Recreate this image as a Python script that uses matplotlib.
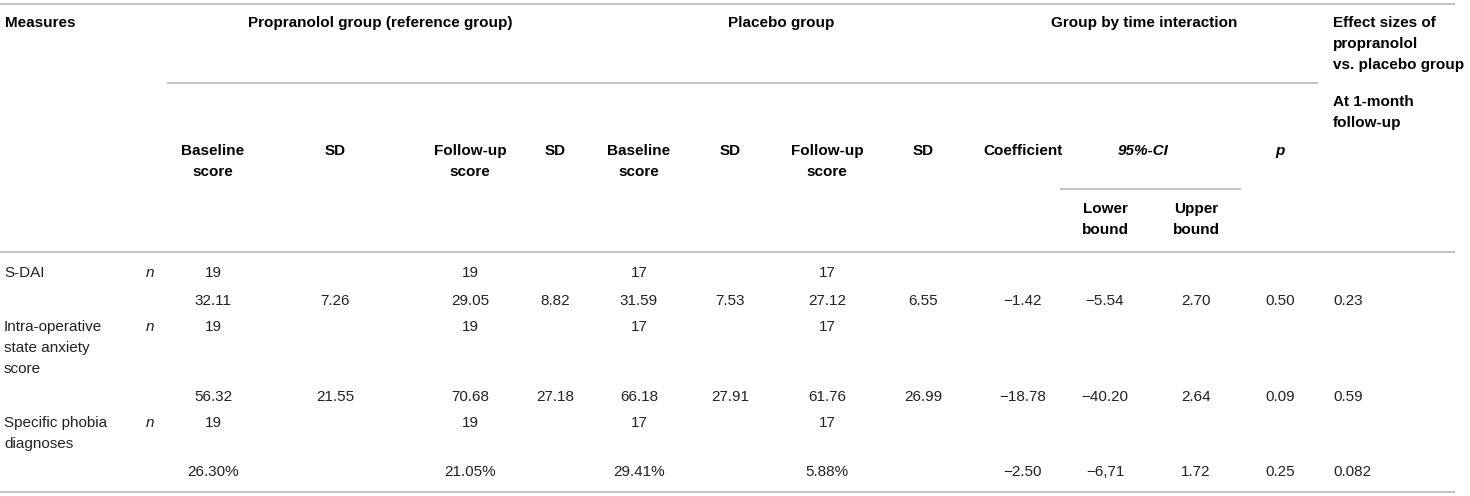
import matplotlib.pyplot as plt

plt.rcParams['font.family'] = ['Liberation Sans', 'DejaVu Sans']

# Table content
group_headers = ['Propranolol group (reference group)', 'Placebo group', 'Group by time interaction']
sub_headers = ['Baseline\nscore', 'SD', 'Follow-up\nscore', 'SD',
               'Baseline\nscore', 'SD', 'Follow-up\nscore', 'SD',
               'Coefficient']
ci_headers = ['Lower\nbound', 'Upper\nbound']
effect_header = 'Effect sizes of\npropranolol\nvs. placebo group'
effect_sub = 'At 1-month\nfollow-up'

measures = ['S-DAI', 'Intra-operative\nstate anxiety\nscore', 'Specific phobia\ndiagnoses']
n_prop = [19, 19, 19]
n_plac = [17, 17, 17]

prop_base = ['32.11', '56.32', '26.30%']
prop_base_sd = ['7.26', '21.55', '']
prop_follow = ['29.05', '70.68', '21.05%']
prop_follow_sd = ['8.82', '27.18', '']
plac_base = ['31.59', '66.18', '29.41%']
plac_base_sd = ['7.53', '27.91', '']
plac_follow = ['27.12', '61.76', '5.88%']
plac_follow_sd = ['6.55', '26.99', '']
coefficient = ['\u22121.42', '\u221218.78', '\u22122.50']
ci_lower = ['\u22125.54', '\u221240.20', '\u22126,71']
ci_upper = ['2.70', '2.64', '1.72']
p_values = ['0.50', '0.09', '0.25']
effect_sizes = ['0.23', '0.59', '0.082']

# Layout (pixel coordinates)
col_x = [213, 335, 470, 555, 639, 730, 827, 923, 1023, 1105, 1196, 1280]
effect_x = 1333
n_x = 150
label_rows = [273, 327, 423]
value_rows = [301, 397, 472]
step = 21
fs = 11
line_col = '#c4c4c4'
txt_col = '#222222'

fig = plt.figure(figsize=(14.7, 4.96), dpi=100)
ax = fig.add_axes([0, 0, 1, 1])
ax.set_xlim(0, 1470)
ax.set_ylim(496, 0)
ax.axis('off')


def put(x, y, s, ha='center', **kw):
    for i, line in enumerate(s.split('\n')):
        ax.text(x, y + i * step, line, ha=ha, va='center', fontsize=fs, **kw)


# rules
for y, x0, x1 in [(4, 0, 1455), (83, 167, 1318), (189, 1060, 1241),
                  (252, 0, 1455), (492, 0, 1455)]:
    ax.plot([x0, x1], [y, y], color=line_col, lw=1.5, solid_capstyle='butt')

# header
put(5, 23, 'Measures', ha='left', fontweight='bold')
for x, s in zip([380, 781, 1144], group_headers):
    put(x, 23, s, fontweight='bold')
put(effect_x, 23, effect_header, ha='left', fontweight='bold')
put(effect_x, 102, effect_sub, ha='left', fontweight='bold')
for x, s in zip(col_x[:9], sub_headers):
    put(x, 151, s, fontweight='bold')
put(1143, 151, '95%-CI', fontweight='bold', style='italic')
put(col_x[11], 151, 'p', fontweight='bold', style='italic')
for x, s in zip(col_x[9:11], ci_headers):
    put(x, 209, s, fontweight='bold')

# body
columns = [prop_base, prop_base_sd, prop_follow, prop_follow_sd,
           plac_base, plac_base_sd, plac_follow, plac_follow_sd,
           coefficient, ci_lower, ci_upper, p_values]
for r in range(len(measures)):
    put(4, label_rows[r], measures[r], ha='left', color=txt_col)
    put(n_x, label_rows[r], 'n', style='italic', color=txt_col)
    for c in [0, 2]:
        put(col_x[c], label_rows[r], str(n_prop[r]), color=txt_col)
    for c in [4, 6]:
        put(col_x[c], label_rows[r], str(n_plac[r]), color=txt_col)
    for x, col in zip(col_x, columns):
        if col[r]:
            put(x, value_rows[r], col[r], color=txt_col)
    put(effect_x, value_rows[r], effect_sizes[r], ha='left', color=txt_col)

fig.savefig('out.png', dpi=100)
